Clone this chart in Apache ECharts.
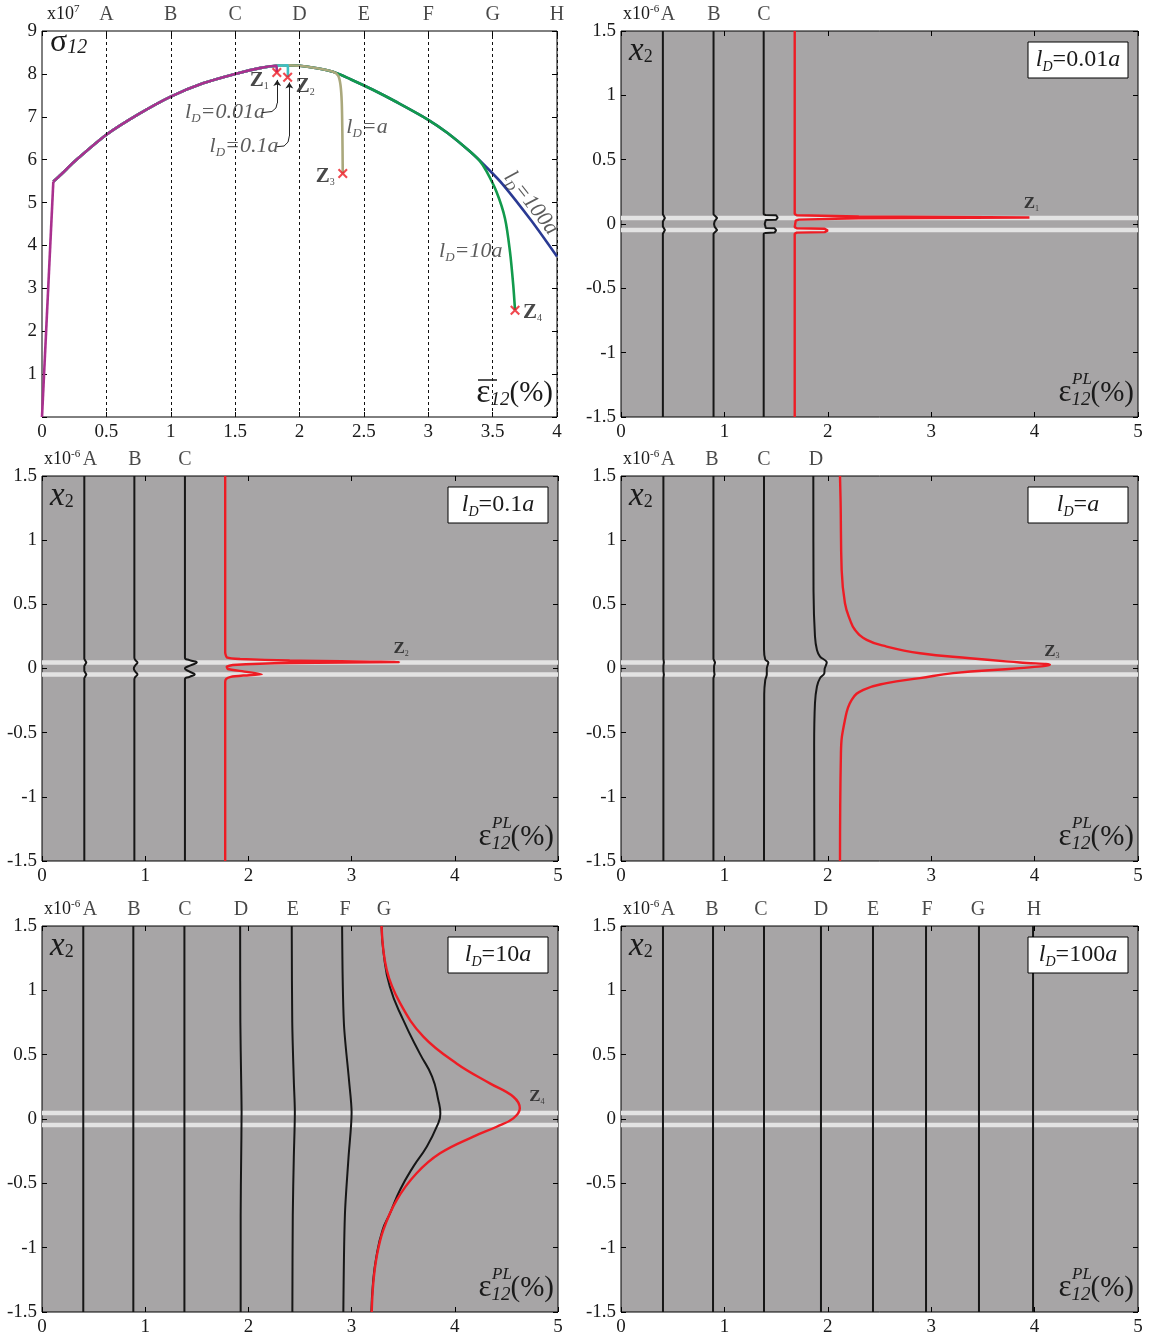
<!DOCTYPE html>
<html><head><meta charset="utf-8">
<script src="https://cdn.jsdelivr.net/npm/echarts@6/dist/echarts.min.js"></script>
<style>html,body{margin:0;padding:0;background:#fff}#c{width:1151px;height:1338px}</style>
</head><body><div id="c"></div>
<script>
// ---------------- DATA ----------------
// Panel 1: macroscopic stress-strain (strain %, stress x1e7)
const stateLabels = ['A','B','C','D','E','F','G','H'];
const stateStrain = [0.5,1,1.5,2,2.5,3,3.5,4];
const elasticStrain = [0, 0.088];
const elasticStress = [0, 5.49];
const baseStrain = [0.088,0.15,0.25,0.5,0.75,1.0,1.25,1.5,1.7,1.82,1.908,2.0,2.1,2.26,2.4,2.57,2.75,3.0,3.15,3.32];
const baseStress = [5.49,5.66,5.95,6.58,7.06,7.47,7.78,8.00,8.14,8.19,8.20,8.19,8.15,8.05,7.87,7.63,7.35,6.93,6.62,6.20];
const branch001 = 1.82,  tail001Strain = [1.823,1.824], tail001Stress = [8.12,8.03];
const branch01  = 1.908, tail01Strain = [1.91,1.91], tail01Stress = [8.12,7.93];
const branchA   = 2.26,  tailAStrain = [2.30,2.318,2.328,2.333,2.336], tailAStress = [7.96,7.75,7.35,6.6,5.68];
const branch10  = 3.32,  tail10Strain = [3.40,3.454,3.53,3.596,3.635,3.66,3.674], tail10Stress = [5.97,5.72,5.25,4.63,3.85,3.08,2.49];
const branch100 = 3.32,  tail100Strain = [3.45,3.58,3.8,4.0], tail100Stress = [5.83,5.42,4.58,3.74];
const zNames = ['1','2','3','4'];
const zStrain = [1.824,1.908,2.336,3.674];
const zStress = [8.03,7.92,5.68,2.49];
const ldNames = ['0.01','0.1','','10','100'];
const ldAnchorX = [1.421,1.569,2.524,3.33,3.798];
const ldAnchorY = [7.11,6.32,6.76,3.87,4.99];
const arrow1X = [1.706,1.786,1.817,1.827], arrow1Y = [7.095,7.123,7.205,7.32];
const arrow1HeadX = [1.827,1.827], arrow1HeadY = [7.32,7.86];
const arrow2X = [1.823,1.880,1.911,1.921], arrow2Y = [6.302,6.318,6.41,6.55];
const arrow2HeadX = [1.921,1.921], arrow2HeadY = [6.55,7.80];

// Profile panels: eps^PL (%) vs x2 (x1e-6)
const bandY = [0.047,-0.047];
const yBand = [1.5,0.075,0.047,0.02,0,-0.02,-0.047,-0.075,-1.5];
const yWide = [1.5,0.75,0.3,0.05,-0.3,-0.75,-1.5];
const yLine = [1.5,-1.5];
// l_D = 0.01a
const p2Labels = ['A','B','C'], p2LabelX = [0.455,0.899,1.383];
const p2A = [0.405,0.405,0.425,0.405,0.405,0.405,0.425,0.405,0.405];
const p2B = [0.895,0.895,0.93,0.905,0.90,0.905,0.93,0.895,0.895];
const p2C_y = [1.5,0.075,0.070,0.068,0.05,0.033,0.031,0.0,-0.031,-0.033,-0.05,-0.067,-0.069,-0.075,-1.5];
const p2C = [1.38,1.38,1.40,1.50,1.515,1.50,1.40,1.39,1.40,1.485,1.50,1.485,1.40,1.38,1.38];
const p2R_y = [1.5,0.078,0.068,0.058,0.05,0.045,0.034,0.026,0.012,-0.024,-0.033,-0.037,-0.05,-0.063,-0.067,-0.076,-1.5];
const p2R = [1.68,1.68,1.70,2.3,3.95,2.3,1.72,1.69,1.68,1.68,1.70,1.97,2.0,1.97,1.70,1.68,1.68];
// l_D = 0.1a
const p3Labels = ['A','B','C'], p3LabelX = [0.465,0.901,1.386];
const p3A = [0.41,0.41,0.43,0.41,0.41,0.41,0.43,0.41,0.41];
const p3W_y = [1.5,0.085,0.065,0.047,0.025,0.0,-0.025,-0.047,-0.065,-0.085,-1.5];
const p3B = [0.895,0.895,0.905,0.925,0.905,0.89,0.905,0.925,0.905,0.895,0.895];
const p3C = [1.385,1.385,1.43,1.50,1.44,1.385,1.43,1.48,1.43,1.385,1.385];
const p3R_y = [1.5,0.126,0.087,0.074,0.062,0.05,0.043,0.027,0.014,-0.004,-0.022,-0.045,-0.055,-0.065,-0.08,-0.108,-1.5];
const p3R = [1.775,1.775,1.79,1.92,2.4,3.46,2.4,1.85,1.79,1.80,1.95,2.13,1.95,1.83,1.785,1.775,1.775];
// l_D = a
const p4Labels = ['A','B','C','D'], p4LabelX = [0.455,0.88,1.383,1.886];
const p4A = [0.41,0.41,0.415,0.41,0.41,0.41,0.415,0.41,0.41];
const p4B = [0.894,0.894,0.91,0.90,0.90,0.90,0.905,0.894,0.894];
const p4C_y = [1.5,0.15,0.07,0.047,0,-0.047,-0.09,-0.2,-1.5];
const p4C = [1.383,1.383,1.395,1.425,1.41,1.41,1.395,1.385,1.383];
const p4D_y = [1.5,0.6,0.25,0.145,0.093,0.047,0,-0.041,-0.075,-0.14,-0.27,-0.6,-1.5];
const p4D = [1.86,1.862,1.876,1.895,1.925,1.99,1.97,1.965,1.925,1.895,1.876,1.868,1.87];
const p4R_y = [1.5,1.287,0.768,0.509,0.379,0.301,0.223,0.171,0.119,0.080,0.047,0.029,0.003,-0.036,-0.075,-0.114,-0.166,-0.244,-0.400,-0.659,-1.5];
const p4R = [2.118,2.124,2.134,2.166,2.215,2.263,2.376,2.569,2.892,3.375,3.858,4.148,3.858,3.213,2.892,2.569,2.344,2.231,2.166,2.127,2.118];
// l_D = 10a
const p5Labels = ['A','B','C','D','E','F','G'], p5LabelX = [0.465,0.891,1.386,1.928,2.432,2.936,3.314];
const p5A = [0.40,0.40,0.40,0.40,0.40,0.40,0.40];
const p5B = [0.885,0.885,0.885,0.885,0.885,0.885,0.885];
const p5C = [1.38,1.38,1.38,1.38,1.38,1.38,1.38];
const p5D = [1.92,1.922,1.93,1.934,1.93,1.925,1.925];
const p5E = [2.42,2.425,2.44,2.45,2.44,2.43,2.426];
const p5F = [2.908,2.925,2.975,3.0,2.97,2.935,2.92];
const p5G_y = [1.5,1.29,1.03,0.77,0.51,0.33,0.148,0.04,-0.06,-0.215,-0.37,-0.552,-0.733,-0.863,-1.07,-1.277,-1.5];
const p5G = [3.29,3.31,3.37,3.50,3.66,3.78,3.84,3.86,3.825,3.728,3.598,3.469,3.372,3.30,3.24,3.207,3.192];
const p5R_y = [1.5,1.16,0.90,0.64,0.43,0.277,0.173,0.083,0.005,-0.06,-0.137,-0.267,-0.422,-0.63,-0.863,-1.07,-1.277,-1.5];
const p5R = [3.29,3.34,3.47,3.695,4.02,4.34,4.567,4.63,4.567,4.406,4.18,3.857,3.63,3.437,3.307,3.243,3.21,3.195];
// l_D = 100a
const p6Labels = ['A','B','C','D','E','F','G','H'];
const p6X = [0.406,0.89,1.383,1.934,2.437,2.95,3.462,3.985];
const p6LabelX = [0.455,0.88,1.354,1.934,2.437,2.959,3.452,3.994];
// Z tips on the profile panels
const tipEps = [3.95,3.46,4.148,4.63];
const tipX2 = [0.05,0.05,0.029,0.083];

// ---------------- LAYOUT / STYLE ----------------
const SERIF = '"Liberation Serif","DejaVu Serif",serif';
const GR = [[42,31,515,386],[621,31,517,386],[42,476,516,385],[621,476,517,385],[42,926,516,386],[621,926,517,386]];
const GRAY = '#a7a5a6', BAND = '#e3e3e3', RED = '#ee1c24', BLK = '#161616';
const C001 = '#a9308e', C01 = '#3fbfc2', CA = '#aaa87c', C10 = '#129a4c', C100 = '#2a3a93';

const zip = (xs, ys) => xs.map((x, i) => [x, ys[i]]);

const grids = [], xAxes = [], yAxes = [], series = [], graphics = [];
GR.forEach((g, i) => {
  const p1 = i === 0;
  grids.push({left:g[0], top:g[1], width:g[2], height:g[3], show:true, borderColor:'#000', borderWidth:1,
    backgroundColor: p1 ? '#fff' : GRAY, containLabel:false, outerBoundsMode:'none'});
  const xr = {min:0, max:p1?4:5, interval:p1?0.5:1};
  const yr = {min:p1?0:-1.5, max:p1?9:1.5, interval:p1?1:0.5};
  const tick = {show:true, inside:true, length:5, lineStyle:{color:'#000', width:1}};
  const lab = {fontFamily:SERIF, fontSize:19, color:'#1a1a1a'};
  const axl = {show:false, onZero:false};
  xAxes.push(Object.assign({gridIndex:i, type:'value', position:'bottom', axisLine:axl, axisTick:tick,
    axisLabel:Object.assign({margin:6}, lab), splitLine:{show:false}}, xr));
  xAxes.push(Object.assign({gridIndex:i, type:'value', position:'top', axisLine:axl, axisTick:tick,
    axisLabel:{show:false}, splitLine:{show:false}}, xr));
  yAxes.push(Object.assign({gridIndex:i, type:'value', position:'left', axisLine:axl, axisTick:tick,
    axisLabel:Object.assign({margin:5, formatter: v => (p1 && v === 0) ? '' : String(v)}, lab), splitLine:{show:false}}, yr));
  yAxes.push(Object.assign({gridIndex:i, type:'value', position:'right', axisLine:axl, axisTick:tick,
    axisLabel:{show:false}, splitLine:{show:false}}, yr));
});

function ln(gi, xs, ys, color, width, smooth, z) {
  return {type:'line', xAxisIndex:2*gi, yAxisIndex:2*gi, data:zip(xs, ys), symbol:'none', silent:true,
    smooth: smooth || false, lineStyle:{color, width}, z: z || 3};
}
function topLabels(gi, labels, xs, ymax, withDash) {
  const s = {type:'scatter', xAxisIndex:2*gi, yAxisIndex:2*gi, symbol:'circle', symbolSize:1, clip:false, silent:true,
    itemStyle:{color:'rgba(0,0,0,0)'}, z:1,
    data: labels.map((l, k) => ({value:[xs[k], ymax], name:l})),
    label:{show:true, position:'top', distance:6, formatter:'{b}', fontFamily:SERIF, fontSize:20, color:'#1a1a1a'}};
  if (withDash) {
    s.markLine = {silent:true, symbol:'none', label:{show:false}, animation:false,
      lineStyle:{type:[3,3], color:'#111', width:1}, data: xs.map(v => ({xAxis:v}))};
  }
  return s;
}

// ---- Panel 1 ----
function curve(branch, tS, tY) {
  const pts = [];
  baseStrain.forEach((s, i) => { if (s <= branch + 1e-9) pts.push([s, baseStress[i]]); });
  tS.forEach((s, i) => pts.push([s, tY[i]]));
  return pts;
}
series.push(topLabels(0, stateLabels, stateStrain, 9, true));
[[branch100, tail100Strain, tail100Stress, C100], [branch10, tail10Strain, tail10Stress, C10],
 [branchA, tailAStrain, tailAStress, CA], [branch01, tail01Strain, tail01Stress, C01],
 [branch001, tail001Strain, tail001Stress, C001]].forEach(c => {
  series.push({type:'line', xAxisIndex:0, yAxisIndex:0, data:curve(c[0], c[1], c[2]), symbol:'none', silent:true,
    smooth:0.3, lineStyle:{color:c[3], width:2.6}, z:3});
});
series.push(ln(0, elasticStrain, elasticStress, C001, 2.6, false, 3));
// arrows
series.push({type:'lines', coordinateSystem:'cartesian2d', xAxisIndex:0, yAxisIndex:0, polyline:true, silent:true,
  lineStyle:{color:'#222', width:1, opacity:1}, z:5,
  data:[{coords:zip(arrow1X, arrow1Y)}, {coords:zip(arrow2X, arrow2Y)}]});
series.push({type:'lines', coordinateSystem:'cartesian2d', xAxisIndex:0, yAxisIndex:0, silent:true,
  symbol:['none','arrow'], symbolSize:6, lineStyle:{color:'#222', width:1, opacity:1}, z:5,
  data:[{coords:zip(arrow1HeadX, arrow1HeadY)}, {coords:zip(arrow2HeadX, arrow2HeadY)}]});
// markers
const XPATH = 'path://M1.5 0L5 3.5L8.5 0L10 1.5L6.5 5L10 8.5L8.5 10L5 6.5L1.5 10L0 8.5L3.5 5L0 1.5Z';
const zLabPos = [{position:'left', offset:[0,8]}, {position:'right', offset:[0,9]}, {position:'left', offset:[0,3]}, {position:'right', offset:[0,2]}];
const zRichBig = {z:{fontFamily:SERIF, fontSize:21, fontWeight:'bold', color:'#1a1a1a', lineHeight:22},
  s:{fontFamily:SERIF, fontSize:10, color:'#1a1a1a', verticalAlign:'bottom', lineHeight:6}};
series.push({type:'scatter', xAxisIndex:0, yAxisIndex:0, symbol:XPATH, symbolSize:10, silent:true, z:8,
  itemStyle:{color:RED},
  data: zStrain.map((s, k) => ({value:[s, zStress[k]], name:zNames[k],
    label:Object.assign({show:true, distance:3, formatter:'{z|Z}{s|' + zNames[k] + '}', rich:zRichBig}, zLabPos[k])}))});
// l_D annotations
const ldRich = {i:{fontFamily:SERIF, fontStyle:'italic', fontSize:22, color:'#333', lineHeight:26},
  d:{fontFamily:SERIF, fontStyle:'italic', fontSize:13, color:'#333', verticalAlign:'bottom', lineHeight:8}};
series.push({type:'scatter', xAxisIndex:0, yAxisIndex:0, symbol:'circle', symbolSize:1, silent:true, z:8,
  itemStyle:{color:'rgba(0,0,0,0)'},
  data: ldNames.map((n, k) => ({value:[ldAnchorX[k], ldAnchorY[k]],
    label:{show:true, position:'inside', rotate: k === 4 ? -52 : 0, formatter:'{i|l}{d|D}{i|=' + n + 'a}', rich:ldRich}}))});

// ---- Profile panels ----
function bands(gi) {
  bandY.forEach(b => series.push(ln(gi, [0,5], [b,b], BAND, 4.5, false, 2)));
}
bands(1);
series.push(ln(1, p2A, yBand, BLK, 2), ln(1, p2B, yBand, BLK, 2), ln(1, p2C, p2C_y, BLK, 2), ln(1, p2R, p2R_y, RED, 2.4, false, 4));
series.push(topLabels(1, p2Labels, p2LabelX, 1.5));
bands(2);
series.push(ln(2, p3A, yBand, BLK, 2), ln(2, p3B, p3W_y, BLK, 2, 0.5), ln(2, p3C, p3W_y, BLK, 2, 0.5), ln(2, p3R, p3R_y, RED, 2.4, 0.15, 4));
series.push(topLabels(2, p3Labels, p3LabelX, 1.5));
bands(3);
series.push(ln(3, p4A, yBand, BLK, 2), ln(3, p4B, yBand, BLK, 2), ln(3, p4C, p4C_y, BLK, 2, 0.3), ln(3, p4D, p4D_y, BLK, 2, 0.3), ln(3, p4R, p4R_y, RED, 2.4, 0.45, 4));
series.push(topLabels(3, p4Labels, p4LabelX, 1.5));
bands(4);
[p5A, p5B, p5C, p5D, p5E, p5F].forEach(a => series.push(ln(4, a, yWide, BLK, 2, 0.3)));
series.push(ln(4, p5G, p5G_y, BLK, 2, 0.5), ln(4, p5R, p5R_y, RED, 2.4, 0.4, 4));
series.push(topLabels(4, p5Labels, p5LabelX, 1.5));
bands(5);
p6X.forEach(x => series.push(ln(5, [x, x], yLine, BLK, 2)));
series.push(topLabels(5, p6Labels, p6LabelX, 1.5));
// Z tip labels
const zRichSmall = {z:{fontFamily:SERIF, fontSize:17, fontWeight:'bold', color:'#1a1a1a', lineHeight:18},
  s:{fontFamily:SERIF, fontSize:8, color:'#1a1a1a', verticalAlign:'bottom', lineHeight:5}};
tipEps.forEach((e, k) => {
  series.push({type:'scatter', xAxisIndex:2*(k+1), yAxisIndex:2*(k+1), symbol:'circle', symbolSize:1, silent:true, z:8,
    itemStyle:{color:'rgba(0,0,0,0)'},
    data:[{value:[e, tipX2[k]], label:{show:true, position:'top', distance:4, offset: k === 3 ? [17, 2] : [2, 0],
      formatter:'{z|Z}{s|' + zNames[k] + '}', rich:zRichSmall}}]});
});

// ---- Graphic text (axis symbols, boxes) ----
const txtFill = '#1a1a1a';
GR.forEach((g, i) => {
  const L = g[0], T = g[1], R = g[0] + g[2], B = g[1] + g[3];
  const p1 = i === 0;
  graphics.push({type:'text', x: L + (p1 ? 5 : 2), y: T - 7, z:50, silent:true,
    style:{text: '{a|x10}{b|' + (p1 ? '7' : '-6') + '}', align:'left', verticalAlign:'bottom',
      rich:{a:{fontFamily:SERIF, fontSize:18, fill:txtFill, lineHeight:20}, b:{fontFamily:SERIF, fontSize:11, fill:txtFill, verticalAlign:'top', lineHeight:9}}}});
  if (p1) {
    graphics.push({type:'text', x: L + 8, y: T + 12, z:50, silent:true,
      style:{text:'{a|σ}{b|12}', align:'left', verticalAlign:'middle',
        rich:{a:{fontFamily:SERIF, fontSize:32, fill:txtFill, lineHeight:30}, b:{fontFamily:SERIF, fontStyle:'italic', fontSize:20, fill:txtFill, verticalAlign:'bottom', lineHeight:12}}}});
    graphics.push({type:'text', x: R - 4, y: B - 8, z:50, silent:true,
      style:{text:'{e|ε}{s|12}{p|(%)}', align:'right', verticalAlign:'bottom',
        rich:{e:{fontFamily:SERIF, fontSize:34, fill:txtFill, lineHeight:32}, s:{fontFamily:SERIF, fontStyle:'italic', fontSize:19, fill:txtFill, verticalAlign:'bottom', lineHeight:10}, p:{fontFamily:SERIF, fontSize:29, fill:txtFill, lineHeight:32}}}});
    graphics.push({type:'line', z:50, silent:true, shape:{x1:R - 79, y1:B - 37, x2:R - 60, y2:B - 37}, style:{stroke:txtFill, lineWidth:1.5}});
  } else {
    graphics.push({type:'text', x: L + 8, y: T + 20, z:50, silent:true,
      style:{text:'{a|x}{b|2}', align:'left', verticalAlign:'middle',
        rich:{a:{fontFamily:SERIF, fontStyle:'italic', fontSize:33, fill:txtFill, lineHeight:30}, b:{fontFamily:SERIF, fontSize:18, fill:txtFill, verticalAlign:'bottom', lineHeight:10}}}});
    graphics.push({type:'text', x: R - 4, y: B - 8, z:50, silent:true,
      style:{text:'{e|ε}{s|12}{p|(%)}', align:'right', verticalAlign:'bottom',
        rich:{e:{fontFamily:SERIF, fontSize:31, fill:txtFill, lineHeight:32}, s:{fontFamily:SERIF, fontStyle:'italic', fontSize:19, fill:txtFill, verticalAlign:'bottom', lineHeight:10}, p:{fontFamily:SERIF, fontSize:29, fill:txtFill, lineHeight:32}}}});
    graphics.push({type:'text', x: R - 66, y: B - 46, z:50, silent:true,
      style:{text:'PL', fontFamily:SERIF, fontStyle:'italic', fontSize:17, fill:txtFill, align:'left', verticalAlign:'top'}});
    graphics.push({type:'rect', z:50, silent:true, shape:{x:R - 110, y:T + 11, width:100, height:36}, style:{fill:'#fff', stroke:'#000', lineWidth:1}});
    graphics.push({type:'text', x: R - 60, y: T + 29, z:51, silent:true,
      style:{text:'{i|l}{d|D}{n|=' + ldNames[i - 1] + '}{i|a}', align:'center', verticalAlign:'middle',
        rich:{i:{fontFamily:SERIF, fontStyle:'italic', fontSize:24, fill:txtFill, lineHeight:28},
          d:{fontFamily:SERIF, fontStyle:'italic', fontSize:14, fill:txtFill, verticalAlign:'bottom', lineHeight:8},
          n:{fontFamily:SERIF, fontSize:24, fill:txtFill, lineHeight:28}}}});
  }
});

const chart = echarts.init(document.getElementById('c'), null, {renderer:'canvas'});
chart.setOption({animation:false, backgroundColor:'#fff', grid:grids, xAxis:xAxes, yAxis:yAxes, series, graphic:graphics});
</script></body></html>
